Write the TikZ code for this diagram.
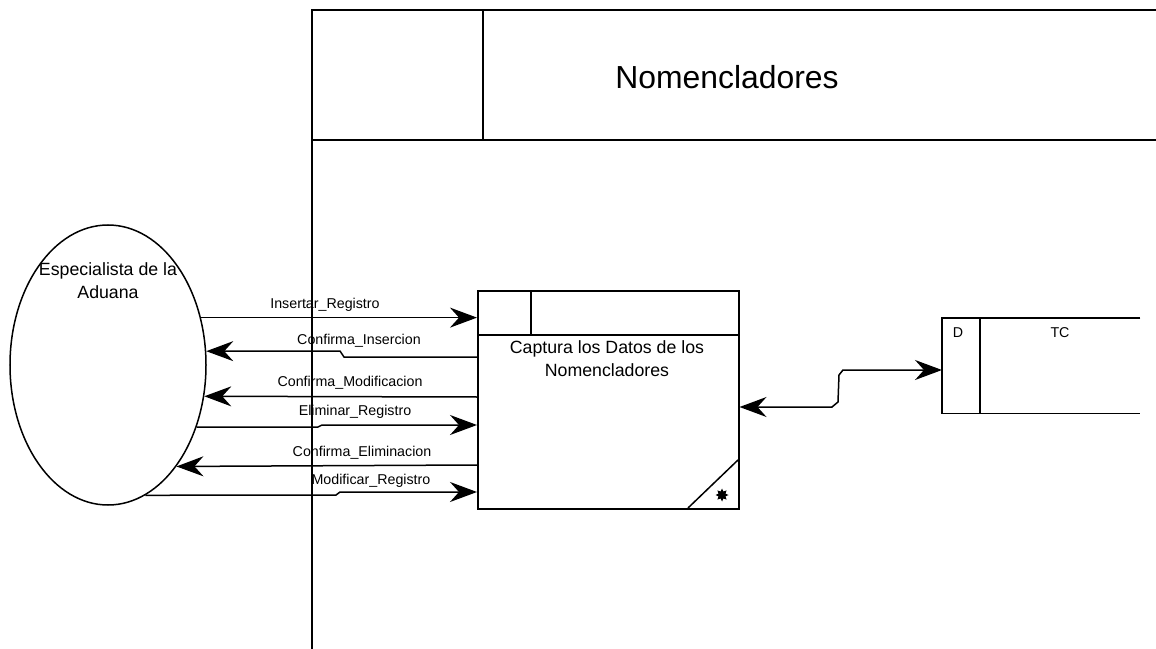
\documentclass[tikz,border=0pt]{standalone}
\usepackage{fontspec}
\setmainfont{Liberation Sans}
\usetikzlibrary{arrows.meta,shapes.geometric}
\begin{document}
\begin{tikzpicture}[x=1bp,y=-1bp,
  line/.style={line width=1.5bp,black},
  tip/.tip={Stealth[length=27bp,width=20bp,inset=9bp]},
  flow/.style={line, -tip},
  biflow/.style={line, tip-tip},
  lbl/.style={font=\fontsize{14.3}{16}\selectfont, inner sep=0pt},
  txt/.style={font=\fontsize{17.8}{23}\selectfont, align=center, inner sep=0pt}]
\useasboundingbox (0,0) rectangle (1156,649);

% swimlane with its header
\draw[line] (312,649) -- (312,10) -- (1156,10);
\draw[line] (312,140) -- (1156,140);
\draw[line] (483,10) -- (483,140);
\node[font=\fontsize{32}{34}\selectfont, inner sep=0pt] (lane) at (727,77) {Nomencladores};

% external entity
\node[line, draw, ellipse, minimum width=196bp, minimum height=280bp, inner sep=0pt] (ext) at (108,365) {};
\node[txt] (extname) at (108,281) {Especialista de la\\Aduana};

% process
\node[line, draw, minimum width=261bp, minimum height=218bp, inner sep=0pt, anchor=north west] (proc) at (477,290) {};
\draw[line] (477,335) -- (738,335);
\draw[line] (531,290) -- (531,335);
\draw[line] (688,508) -- (738,460);
\node[star, star points=8, star point ratio=1.7, fill=black, minimum size=13bp, inner sep=0pt] (mark) at (722,495) {};
\node[txt] (procname) at (607,359) {Captura los Datos de los\\Nomencladores};

% data store
\node[minimum width=198bp, minimum height=95bp, inner sep=0pt, anchor=north west] (store) at (942,318) {};
\draw[line] (store.north east) -- (store.north west) -- (store.south west) -- (store.south east);
\draw[line] (980,318) -- (980,413);
\node[lbl] (storeid) at (958,333) {D};
\node[lbl] (storename) at (1060,333) {TC};

% flows between entity and process
\draw[flow] (ext.27) -- (ext.27 -| proc.west);
\node[lbl] (f1) at (325,305) {Insertar\_Registro};

\draw[flow] (proc.west |- 0,357) -- (344,357) -- (340,351) -- (ext.8.75);
\node[lbl] (f2) at (359,341) {Confirma\_Insercion};

\draw[flow] (proc.west |- 0,397) -- (ext.-18.5);
\node[lbl] (f3) at (350,383) {Confirma\_Modificacion};

\draw[flow] (ext.-35.2) -- (318,427) -- (322,425) -- (proc.west |- 0,425);
\node[lbl] (f4) at (355,412) {Eliminar\_Registro};

\draw[flow] (proc.west |- 0,465) -- (ext.-56.1);
\node[lbl] (f5) at (362,453) {Confirma\_Eliminacion};

\draw[flow] (ext.-74.3) -- (336,495) -- (340,492) -- (proc.west |- 0,492);
\node[lbl] (f6) at (371,481) {Modificar\_Registro};

% flow between process and data store
\draw[biflow] (proc.east |- 0,407) -- (832,407) -- (838,402) -- (839,375) -- (843,370) -- (store.west |- 0,370);
\end{tikzpicture}
\end{document}
